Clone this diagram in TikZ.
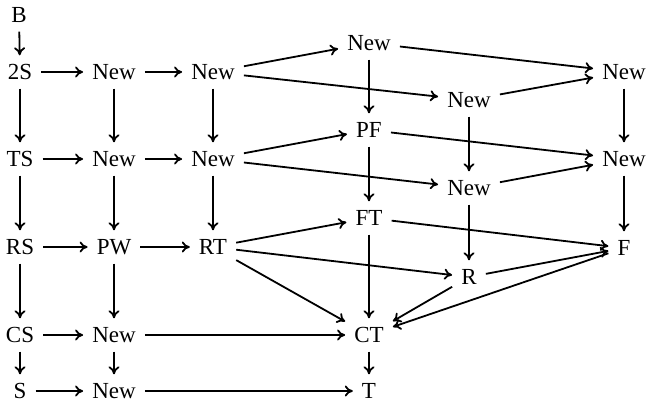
\documentclass[tikz,border=0pt]{standalone}
\usepackage{fontspec}
\setmainfont{Liberation Serif}
\usetikzlibrary{arrows.meta}
\begin{document}
\begin{tikzpicture}[x=1pt,y=-1pt,
  v/.style={inner xsep=9pt,inner ysep=9pt,text height=15pt,text depth=0pt,
    font=\fontsize{23}{27}\selectfont},
  ar/.style={line width=1.8pt,-{Computer Modern Rightarrow[length=8pt,width=11pt]}}]
\useasboundingbox (0,0) rectangle (646,404);
\node[v] (b) at (19,15) {B};
\node[v] (s2) at (20,72) {2S};
\node[v] (n1) at (114,72) {New};
\node[v] (n2) at (213,72) {New};
\node[v] (nt) at (369,43) {New};
\node[v] (nr1) at (624,72) {New};
\node[v] (nm1) at (469,100) {New};
\node[v] (ts) at (20,159) {TS};
\node[v] (n3) at (114,159) {New};
\node[v] (n4) at (213,159) {New};
\node[v] (pf) at (369,130) {PF};
\node[v] (nr2) at (624,159) {New};
\node[v] (nm2) at (469,188) {New};
\node[v] (rs) at (20,247) {RS};
\node[v] (pw) at (114,247) {PW};
\node[v] (rt) at (213,247) {RT};
\node[v] (ft) at (369,218) {FT};
\node[v] (f) at (624,248) {F};
\node[v] (r) at (469,277) {R};
\node[v] (cs) at (20,335) {CS};
\node[v] (n5) at (114,335) {New};
\node[v] (ct) at (369,335) {CT};
\node[v] (s) at (20,391) {S};
\node[v] (n6) at (114,391) {New};
\node[v] (t) at (369,391) {T};
\foreach \a/\b in {b/s2,s2/n1,n1/n2,s2/ts,n1/n3,n2/n4,n2/nt,n2/nm1,nt/nr1,nm1/nr1,
  nt/pf,nm1/nm2,nr1/nr2,ts/n3,n3/n4,n4/pf,n4/nm2,pf/nr2,nm2/nr2,pf/ft,nm2/r,nr2/f,
  ts/rs,n3/pw,n4/rt,rs/pw,pw/rt,rt/ft,rt/r,rt/ct,ft/f,ft/ct,r/f,r/ct,f/ct,
  rs/cs,pw/n5,cs/n5,n5/ct,cs/s,n5/n6,s/n6,n6/t,ct/t}
  \draw[ar] (\a) -- (\b);
\end{tikzpicture}
\end{document}
